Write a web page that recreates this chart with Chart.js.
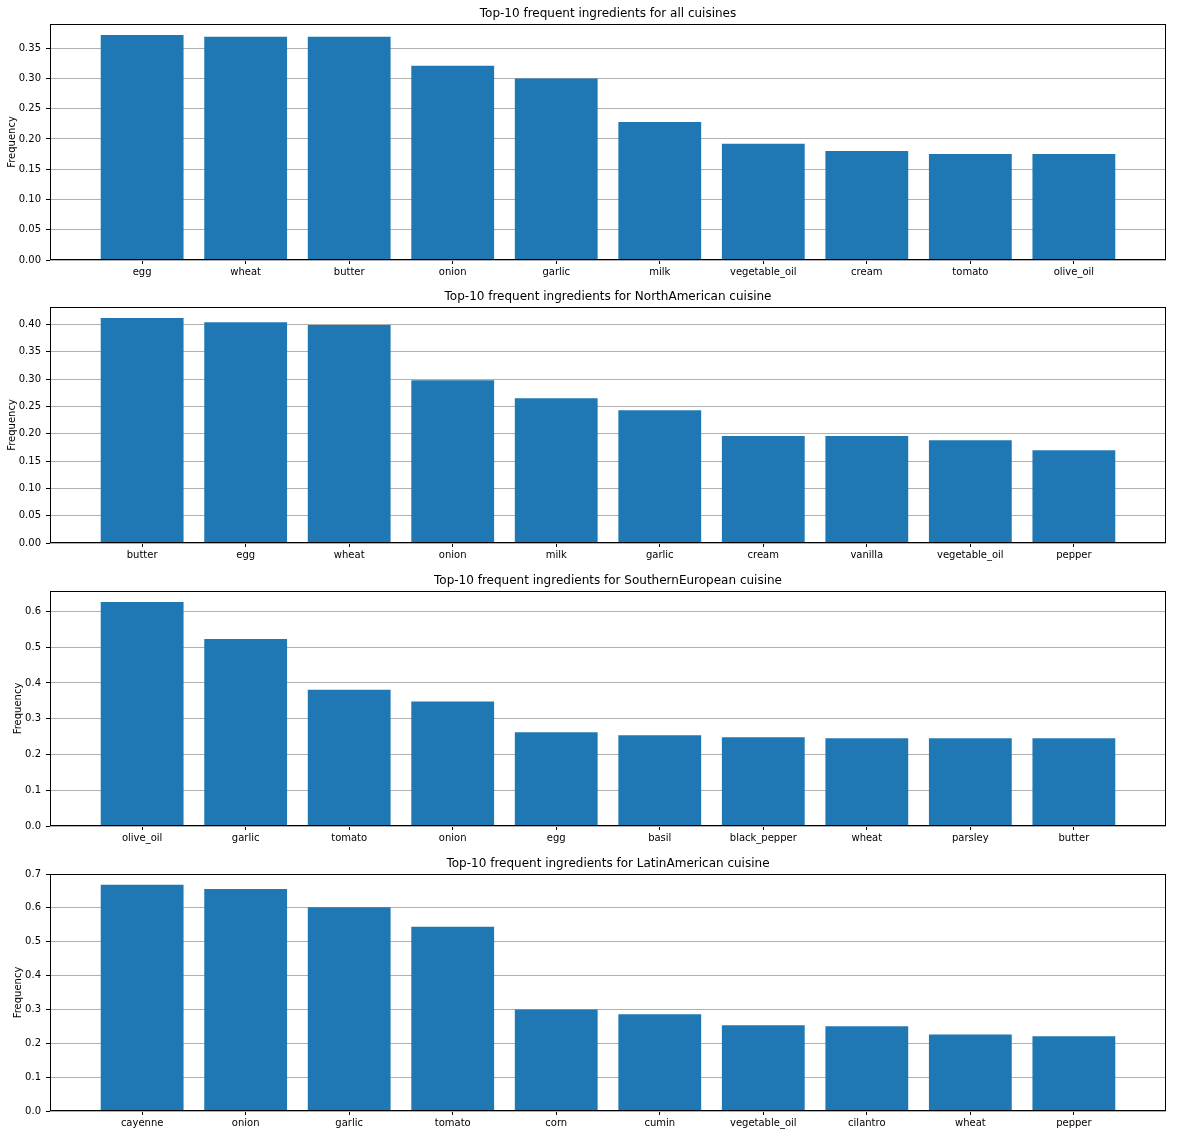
<!DOCTYPE html>
<html><head><meta charset="utf-8">
<script src="https://cdn.jsdelivr.net/npm/chart.js@4.4.1/dist/chart.umd.min.js"></script>
<style>
html,body{margin:0;padding:0;background:#fff;}
.panel{position:absolute;left:0;width:1177px;}
canvas{display:block;}
</style></head><body>
<div class="panel" style="top:0px"><canvas id="c0" width="1177" height="283"></canvas></div>
<div class="panel" style="top:283px"><canvas id="c1" width="1177" height="283"></canvas></div>
<div class="panel" style="top:567px"><canvas id="c2" width="1177" height="283"></canvas></div>
<div class="panel" style="top:850px"><canvas id="c3" width="1177" height="285"></canvas></div>
<script>
// ---- data ----
const titles = [
  "Top-10 frequent ingredients for all cuisines",
  "Top-10 frequent ingredients for NorthAmerican cuisine",
  "Top-10 frequent ingredients for SouthernEuropean cuisine",
  "Top-10 frequent ingredients for LatinAmerican cuisine"
];
const catsAll = ["egg","wheat","butter","onion","garlic","milk","vegetable_oil","cream","tomato","olive_oil"];
const valsAll = [0.372,0.369,0.369,0.321,0.300,0.228,0.192,0.180,0.175,0.175];
const catsNA = ["butter","egg","wheat","onion","milk","garlic","cream","vanilla","vegetable_oil","pepper"];
const valsNA = [0.412,0.404,0.399,0.298,0.265,0.243,0.196,0.196,0.188,0.170];
const catsSE = ["olive_oil","garlic","tomato","onion","egg","basil","black_pepper","wheat","parsley","butter"];
const valsSE = [0.626,0.523,0.381,0.348,0.262,0.254,0.248,0.245,0.245,0.245];
const catsLA = ["cayenne","onion","garlic","tomato","corn","cumin","vegetable_oil","cilantro","wheat","pepper"];
const valsLA = [0.668,0.656,0.602,0.544,0.300,0.286,0.253,0.250,0.226,0.221];
const yMax = [0.39, 0.432, 0.657, 0.70];
const yStep = [0.05, 0.05, 0.1, 0.1];
const yDecimals = [2, 2, 1, 1];

const panels = [
  {cats: catsAll, vals: valsAll},
  {cats: catsNA, vals: valsNA},
  {cats: catsSE, vals: valsSE},
  {cats: catsLA, vals: valsLA}
];
const padLeft = [6, 6, 12, 12];
const xAxisH = [23, 23, 24, 24];

const FONT = "'DejaVu Sans', sans-serif";

const framePlugin = {
  id: 'frame',
  afterDraw(chart, args, opts) {
    const ctx = chart.ctx, a = chart.chartArea;
    ctx.save();
    ctx.strokeStyle = '#000';
    ctx.lineWidth = 1;
    ctx.strokeRect(Math.round(a.left) + 0.5, Math.round(a.top) + 0.5,
                   Math.round(a.right - a.left) - 1, Math.round(a.bottom - a.top) - 1);
    ctx.fillStyle = '#000';
    ctx.font = "12px " + FONT;
    ctx.textAlign = 'center';
    ctx.textBaseline = 'alphabetic';
    ctx.fillText(opts.text, (a.left + a.right) / 2, a.top - 7);
    ctx.restore();
  }
};

panels.forEach((p, k) => {
  const cats = p.cats;
  const step = yStep[k];
  new Chart(document.getElementById('c' + k), {
    type: 'bar',
    data: {
      datasets: [{
        data: p.vals.map((v, i) => ({x: i, y: v})),
        backgroundColor: '#1f77b4',
        borderWidth: 0,
        barPercentage: 0.8,
        categoryPercentage: 1.0
      }]
    },
    options: {
      responsive: false,
      animation: false,
      devicePixelRatio: 1,
      layout: {padding: {left: padLeft[k], right: 11, top: 24, bottom: 0}},
      plugins: {
        legend: {display: false},
        tooltip: {enabled: false},
        title: {display: false},
        frame: {text: titles[k]}
      },
      scales: {
        x: {
          type: 'linear',
          min: -0.89, max: 9.89,
          bounds: 'data',
          offset: false,
          afterBuildTicks: (s) => { s.ticks = cats.map((c, i) => ({value: i})); },
          afterFit: (s) => { s.height = xAxisH[k]; },
          ticks: {
            autoSkip: false, maxRotation: 0, minRotation: 0,
            padding: 2, color: '#000',
            font: {family: FONT, size: 10},
            callback: (v) => cats[v]
          },
          grid: {offset: false, drawOnChartArea: false, drawTicks: true, tickLength: 4, tickColor: '#000', color: '#000'},
          border: {display: false}
        },
        y: {
          type: 'linear',
          min: 0, max: yMax[k],
          bounds: 'data',
          z: 1,
          afterBuildTicks: (s) => {
            s.ticks = s.ticks.filter(t => Math.abs(t.value / step - Math.round(t.value / step)) < 1e-6);
          },
          afterFit: (s) => { s.width = 50 - padLeft[k]; },
          ticks: {
            stepSize: step, includeBounds: false,
            padding: 5, color: '#000',
            font: {family: FONT, size: 10},
            callback: (v) => Number(v).toFixed(yDecimals[k])
          },
          grid: {offset: false, color: '#b0b0b0', lineWidth: 1, tickLength: 4, tickColor: '#000'},
          border: {display: false},
          title: {display: true, text: 'Frequency', color: '#000', padding: 0,
                  font: {family: FONT, size: 10}}
        }
      }
    },
    plugins: [framePlugin]
  });
});
</script>
</body></html>
